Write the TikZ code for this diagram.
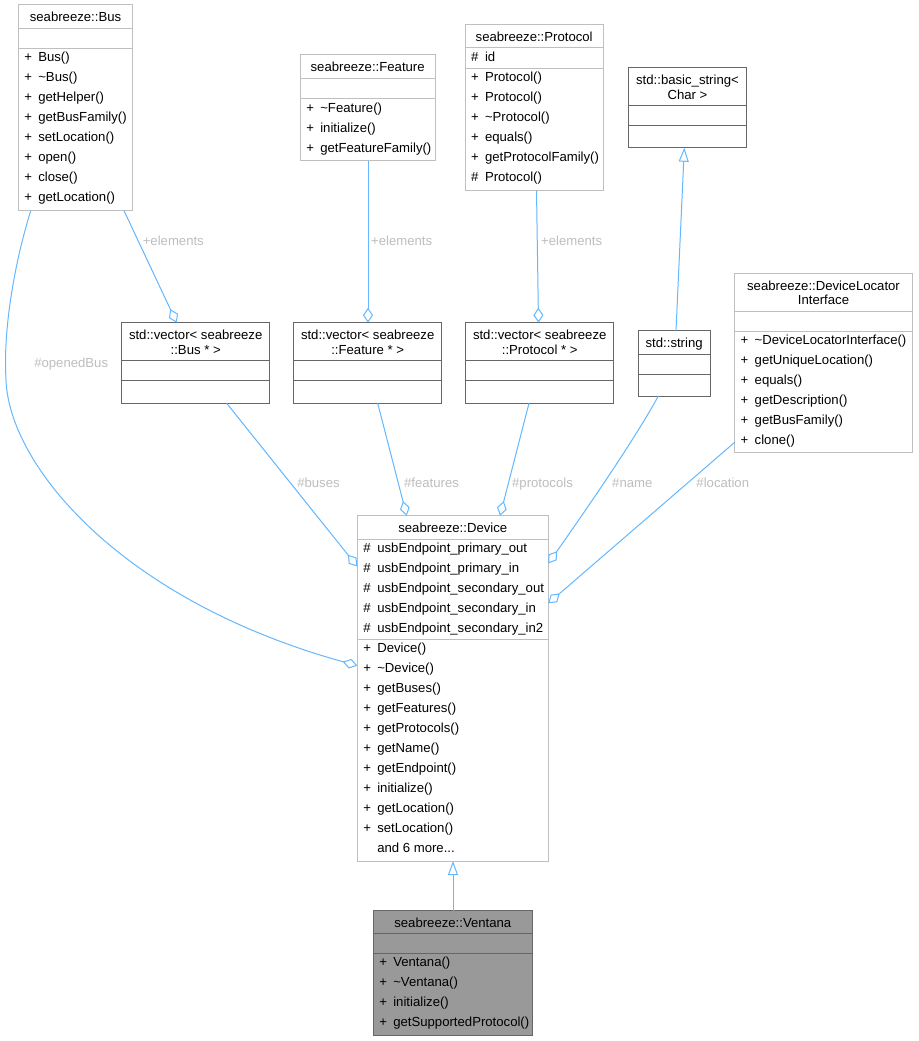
\documentclass[tikz,border=0pt]{standalone}
\usepackage{fontspec}
\setmainfont{Liberation Sans}
\usetikzlibrary{arrows.meta}
\definecolor{edgeblue}{HTML}{63B8FF}
\definecolor{lightframe}{HTML}{BFBFBF}
\definecolor{darkframe}{HTML}{666666}
\definecolor{labelgray}{HTML}{BEBEBE}
\definecolor{fillgray}{HTML}{999999}
\newcommand\mytilde{\textasciitilde}
\tikzset{
  frame/.style={line width=1pt, inner sep=0pt, outer sep=0pt, anchor=north west},
  docframe/.style={draw=lightframe, fill=white},
  extframe/.style={draw=darkframe, fill=white},
  curframe/.style={draw=darkframe, fill=fillgray},
  txt/.style={inner sep=0pt, outer sep=0pt, font=\fontsize{13.15}{16}\selectfont},
  edge/.style={draw=edgeblue, line width=1pt},
  agg/.style={edge, -{Diamond[open, length=15pt, width=10pt, line width=1pt]}},
  inh/.style={edge, -{Triangle[open, length=14pt, width=10pt, line width=1pt]}},
  elabel/.style={txt, text=labelgray, anchor=base},
}
% #1 name, #2 style, #3 x, #4 y, #5 width, #6 title h, #7 attr h, #8 method h
\newcommand\umlbox[8]{%
  \node[frame, #2, minimum width=#5pt, minimum height={#6pt+#7pt+#8pt}] (#1) at (#3,#4) {};
  \draw[#2, fill=none, line width=1pt] ([yshift=-#6pt]#1.north west) -- ([yshift=-#6pt]#1.north east);
  \draw[#2, fill=none, line width=1pt] ([yshift={-#6pt-#7pt}]#1.north west) -- ([yshift={-#6pt-#7pt}]#1.north east);
}
% #1 name, #2 offset of compartment, #3 list sym/text
\newcommand\umlrows[3]{%
  \foreach \s/\t [count=\i from 0] in {#3} {
    \node[txt, anchor=base west] (#1-s-#2-\i) at ([xshift=6pt, yshift={-#2pt-13.6pt-20pt*\i}]#1.north west) {\s};
    \node[txt, anchor=base west] (#1-t-#2-\i) at ([xshift=20pt, yshift={-#2pt-13.6pt-20pt*\i}]#1.north west) {\t};
  }
}
\newcommand\umltitle[2]{%
  \node[txt, anchor=base] (#1-title) at ([yshift=-16.4pt]#1.north) {#2};
}
\newcommand\umltitletwo[3]{%
  \node[txt, anchor=base] (#1-title) at ([yshift=-17pt]#1.north) {#2};
  \node[txt, anchor=base] (#1-title2) at ([yshift=-31.4pt]#1.north) {#3};
}
\begin{document}
\begin{tikzpicture}[x=1pt, y=-1pt]
\useasboundingbox (0,0) rectangle (918,1041);
\fill[white] (0,0) rectangle (918,1041);

% ---- boxes ----
\umlbox{bus}{docframe}{18.3}{5}{114.4}{23.3}{20}{162.4}
\umltitle{bus}{seabreeze::Bus}
\umlrows{bus}{43.3}{+/Bus(), +/\mytilde Bus(), +/getHelper(), +/getBusFamily(), +/setLocation(), +/open(), +/close(), +/getLocation()}

\umlbox{feature}{docframe}{300.3}{55}{134.7}{23.7}{20}{62}
\umltitle{feature}{seabreeze::Feature}
\umlrows{feature}{43.7}{+/\mytilde Feature(), +/initialize(), +/getFeatureFamily()}

\umlbox{protocol}{docframe}{465}{25}{138.3}{22.7}{20.6}{122.4}
\umltitle{protocol}{seabreeze::Protocol}
\umlrows{protocol}{22.7}{\#/id}
\umlrows{protocol}{43.3}{+/Protocol(), +/Protocol(), +/\mytilde Protocol(), +/equals(), +/getProtocolFamily(), \#/Protocol()}

\umlbox{basicstr}{extframe}{628.3}{67.7}{118.4}{37.6}{20}{22.4}
\umltitletwo{basicstr}{std::basic\_string<}{Char >}

\umlbox{vecbus}{extframe}{121.7}{322.7}{148}{37.6}{20.4}{22.6}
\umltitletwo{vecbus}{std::vector< seabreeze}{::Bus * >}

\umlbox{vecfeat}{extframe}{293.7}{322.7}{148}{37.6}{20.4}{22.6}
\umltitletwo{vecfeat}{std::vector< seabreeze}{::Feature * >}

\umlbox{vecprot}{extframe}{465.7}{322.7}{148}{37.6}{20.4}{22.6}
\umltitletwo{vecprot}{std::vector< seabreeze}{::Protocol * >}

\umlbox{string}{extframe}{638.3}{330.7}{71.7}{23.3}{20}{22}
\umltitle{string}{std::string}

\umlbox{dli}{docframe}{734.7}{273.3}{177.6}{38.4}{19.3}{121.7}
\umltitletwo{dli}{seabreeze::DeviceLocator}{Interface}
\umlrows{dli}{57.7}{+/\mytilde DeviceLocatorInterface(), +/getUniqueLocation(), +/equals(), +/getDescription(), +/getBusFamily(), +/clone()}

\umlbox{device}{docframe}{357.3}{515.7}{191}{23.3}{100}{222}
\umltitle{device}{seabreeze::Device}
\umlrows{device}{23.3}{\#/usbEndpoint\_primary\_out, \#/usbEndpoint\_primary\_in, \#/usbEndpoint\_secondary\_out, \#/usbEndpoint\_secondary\_in, \#/usbEndpoint\_secondary\_in2}
\umlrows{device}{123.3}{+/Device(), +/\mytilde Device(), +/getBuses(), +/getFeatures(), +/getProtocols(), +/getName(), +/getEndpoint(), +/initialize(), +/getLocation(), +/setLocation()}
\node[txt, anchor=base west] (device-more) at ([xshift=20pt, yshift={-123.3pt-13.6pt-200pt}]device.north west) {and 6 more...};

\umlbox{ventana}{curframe}{373.3}{910.7}{159}{22.6}{20}{82.4}
\umltitle{ventana}{seabreeze::Ventana}
\umlrows{ventana}{42.6}{+/Ventana(), +/\mytilde Ventana(), +/initialize(), +/getSupportedProtocol()}

% ---- connectors ----
\draw[agg] ([xshift=105.7pt]bus.south west) -- ([xshift=55pt]vecbus.north west);
\draw[agg] ([xshift=67.7pt]feature.south west) -- ([xshift=74.3pt]vecfeat.north west);
\draw[agg] ([xshift=71.5pt]protocol.south west) -- ([xshift=72.8pt]vecprot.north west);
\draw[inh] ([xshift=37.7pt]string.north west) -- ([xshift=56pt]basicstr.south west);

\draw[agg] ([xshift=105pt]vecbus.south west) -- ([yshift=-50.8pt]device.north west);
\draw[agg] ([xshift=84pt]vecfeat.south west) -- ([xshift=49.4pt]device.north west);
\draw[agg] ([xshift=63.3pt]vecprot.south west) -- ([xshift=142.7pt]device.north west);
\draw[agg] ([xshift=20pt]string.south west) .. controls (640,430) and (600,490) .. ([yshift=-47.8pt]device.north east);
\draw[agg] ([yshift=-169pt]dli.north west) -- ([yshift=-87.6pt]device.north east);
\draw[agg] ([xshift=12.4pt]bus.south west) .. controls (14,265) and (3,330) .. (6,380)
   .. controls (9,465) and (120,600) .. ([yshift=-150pt]device.north west);
\draw[inh] ([xshift=0.2pt]ventana.north) -- ([xshift=0.2pt]device.south);

% ---- edge labels ----
\node[elabel] (l-elem1) at (173.3,245.4) {+elements};
\node[elabel] (l-elem2) at (401.7,245.4) {+elements};
\node[elabel] (l-elem3) at (571.7,245.4) {+elements};
\node[elabel] (l-opened) at (71.2,367) {\#openedBus};
\node[elabel] (l-buses) at (318.5,487.7) {\#buses};
\node[elabel] (l-features) at (431.5,487.7) {\#features};
\node[elabel] (l-protocols) at (542.5,487.7) {\#protocols};
\node[elabel] (l-name) at (632.3,487.7) {\#name};
\node[elabel] (l-location) at (722.8,487.7) {\#location};
\end{tikzpicture}
\end{document}
